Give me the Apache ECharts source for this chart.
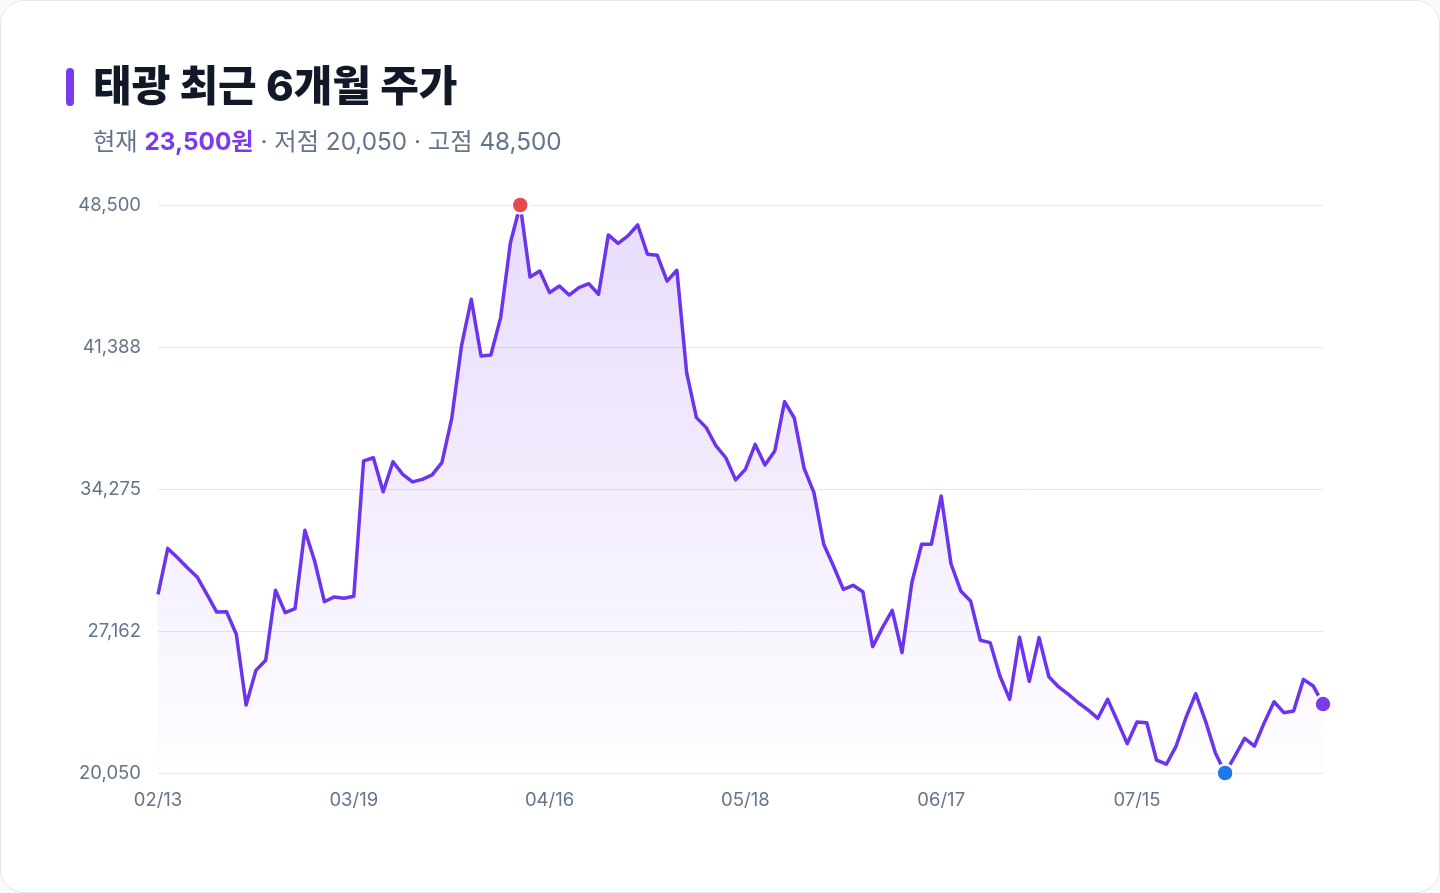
<!DOCTYPE html>
<html lang="ko">
<head>
<meta charset="utf-8">
<title>태광 최근 6개월 주가</title>
<script src="https://cdn.jsdelivr.net/npm/echarts@6/dist/echarts.min.js"></script>
<style>
  html, body { margin: 0; padding: 0; background: #f9fafb; }
  #card {
    position: absolute; left: 0; top: 0;
    width: 1438px; height: 891px;
    background: #fff;
    border: 1px solid #e5e7eb;
    border-radius: 24px;
    overflow: hidden;
  }
  #chart { width: 1438px; height: 891px; }
</style>
</head>
<body>
<div id="card"><div id="chart"></div></div>
<script>
// 종가 (거래일 120개)
const prices = [
  29000, 31300, 30830, 30330, 29870, 29000, 28110, 28130, 27000, 23460,
  25190, 25700, 29200, 28080, 28280, 32210, 30670, 28630, 28870, 28800,
  28900, 35680, 35840, 34140, 35640, 35010, 34630, 34760, 34980, 35600,
  37800, 41440, 43780, 40940, 40990, 42860, 46610, 48500, 44890, 45190,
  44110, 44440, 43990, 44360, 44560, 44030, 47000, 46580, 46950, 47500,
  46030, 45980, 44690, 45230, 40100, 37850, 37350, 36430, 35840, 34730,
  35260, 36510, 35480, 36180, 38650, 37820, 35310, 34090, 31510, 30420,
  29250, 29450, 29130, 26380, 27330, 28200, 26080, 29580, 31510, 31510,
  33920, 30530, 29170, 28670, 26700, 26580, 24910, 23740, 26850, 24640,
  26830, 24870, 24360, 23990, 23570, 23210, 22790, 23740, 22650, 21520,
  22600, 22570, 20690, 20490, 21400, 22820, 24020, 22650, 21070, 20050,
  20900, 21790, 21400, 22570, 23620, 23070, 23160, 24740, 24410, 23500
];
// x축 눈금 (20거래일 간격)
const xTickLabels = ['02/13', '03/19', '04/16', '05/18', '06/17', '07/15'];
const xTickStep = 20;
// y축 눈금
const yTickLabels = ['20,050', '27,162', '34,275', '41,388', '48,500'];

const yMin = 20050;
const yMax = 48500;
const yStep = (yMax - yMin) / (yTickLabels.length - 1);

const font = 'Inter, "Noto Sans CJK KR", sans-serif';
const lineColor = '#6c34ec';

const categories = prices.map((_, i) => String(i));
const hi = Math.max(...prices);
const lo = Math.min(...prices);
const hiIdx = prices.indexOf(hi);
const loIdx = prices.indexOf(lo);
const lastIdx = prices.length - 1;
const fmt = v => v.toLocaleString('en-US');

const chart = echarts.init(document.getElementById('chart'));

const option = {
  animation: false,
  textStyle: { fontFamily: font },
  title: [
    {
      left: 92,
      top: 66,
      padding: 0,
      text: '태광 최근 6개월 주가',
      textStyle: { fontFamily: font, fontSize: 42, fontWeight: 800, color: '#111827' }
    },
    {
      left: 92,
      top: 130,
      padding: 0,
      text: '현재 {b|' + fmt(prices[lastIdx]) + '원} · 저점 ' + fmt(lo) + ' · 고점 ' + fmt(hi),
      textStyle: {
        fontFamily: font, fontSize: 24.3, fontWeight: 400, color: '#64748b',
        rich: {
          b: { fontFamily: font, fontSize: 24.3, fontWeight: 700, color: '#7c3aed' }
        }
      }
    }
  ],
  graphic: [{
    type: 'rect',
    left: 65, top: 67,
    shape: { width: 8, height: 38, r: 4 },
    style: { fill: '#7c3aed' }
  }],
  grid: { left: 157, right: 116, top: 204, bottom: 119 },
  xAxis: {
    type: 'category',
    boundaryGap: false,
    data: categories,
    axisLine: { show: true, lineStyle: { color: '#e5e7eb' } },
    axisTick: { show: false },
    axisLabel: {
      interval: xTickStep - 1,
      margin: 18,
      fontSize: 18.5,
      color: '#64748b',
      formatter: (v, i) => xTickLabels[i / xTickStep] || ''
    },
    splitLine: { show: false }
  },
  yAxis: {
    type: 'value',
    min: yMin,
    max: yMax,
    interval: yStep,
    axisLine: { show: false },
    axisTick: { show: false },
    axisLabel: {
      margin: 17,
      fontSize: 18.5,
      color: '#64748b',
      formatter: v => yTickLabels[Math.round((v - yMin) / yStep)] || ''
    },
    splitLine: { lineStyle: { color: '#e5e7eb', width: 1 } }
  },
  series: [
    {
      type: 'line',
      data: prices,
      symbol: 'none',
      lineStyle: { color: lineColor, width: 3.5, join: 'round' },
      areaStyle: {
        color: new echarts.graphic.LinearGradient(0, 0, 0, 1, [
          { offset: 0, color: 'rgba(124, 58, 237, 0.26)' },
          { offset: 1, color: 'rgba(124, 58, 237, 0.01)' }
        ])
      },
      z: 2
    },
    {
      type: 'scatter',
      symbolSize: 17,
      z: 3,
      data: [
        { value: [hiIdx, hi], itemStyle: { color: '#e5484d' } },
        { value: [loIdx, lo], itemStyle: { color: '#1f77e8' } },
        { value: [lastIdx, prices[lastIdx]], itemStyle: { color: '#7c3aed' } }
      ],
      itemStyle: { borderColor: '#fff', borderWidth: 2.5, opacity: 1 }
    }
  ]
};

chart.setOption(option);
</script>
</body>
</html>
